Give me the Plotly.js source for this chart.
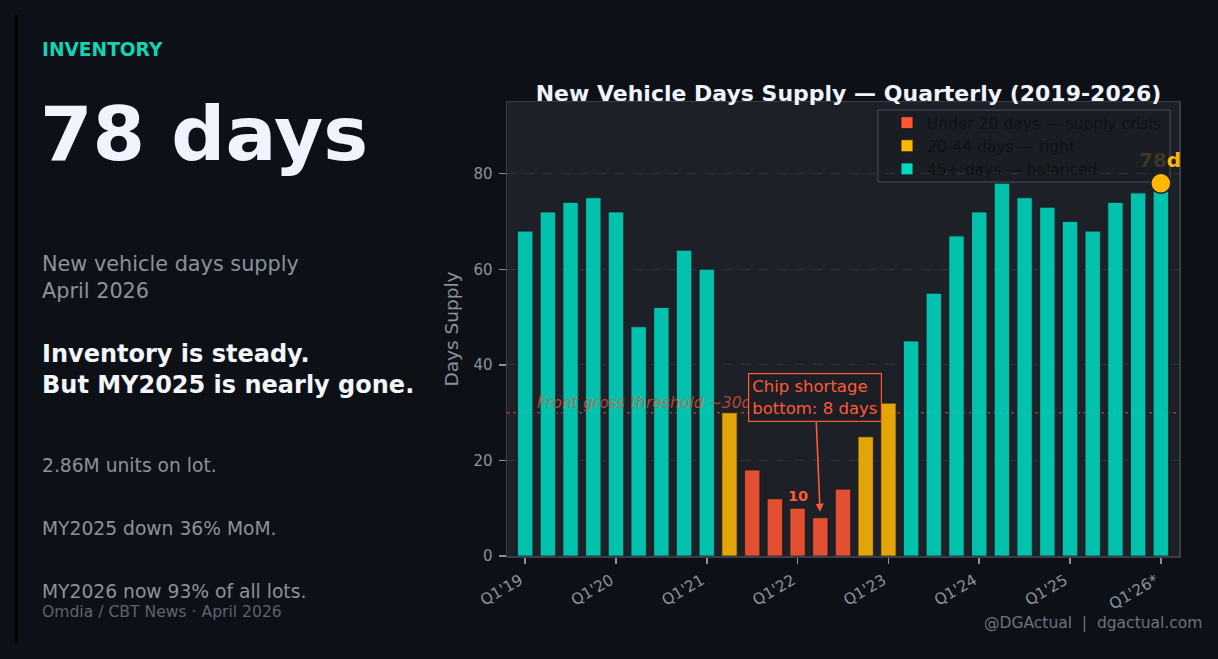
<!DOCTYPE html>
<html>
<head>
<meta charset="utf-8">
<script src="https://cdn.plot.ly/plotly-3.0.1.min.js"></script>
<style>
  html, body { margin: 0; padding: 0; background: #0d1017; }
  #chart { width: 1218px; height: 659px; }
</style>
</head>
<body>
<div id="chart"></div>
<script>
// ---------------- DATA ----------------
const quarters = ["Q1'19","Q2'19","Q3'19","Q4'19","Q1'20","Q2'20","Q3'20","Q4'20",
                  "Q1'21","Q2'21","Q3'21","Q4'21","Q1'22","Q2'22","Q3'22","Q4'22",
                  "Q1'23","Q2'23","Q3'23","Q4'23","Q1'24","Q2'24","Q3'24","Q4'24",
                  "Q1'25","Q2'25","Q3'25","Q4'25","Q1'26*"];
const daysSupply = [68,72,74,75,72,48,52,64,60,30,18,12,10,8,14,25,
                    32,45,55,67,72,78,75,73,70,68,74,76,78];
const tickLabels = ["Q1'19","Q1'20","Q1'21","Q1'22","Q1'23","Q1'24","Q1'25","Q1'26*"];
const bandNames = ["Under 20 days \u2014 supply crisis","20-44 days \u2014 tight","45+ days \u2014 balanced"];
const bandColors = ["#FF5733","#FFB703","#00D9C0"];
const crisisMax = 20, tightMax = 45;
const frontGrossThreshold = 30;
const chipBottomQuarter = "Q2'22", chipBottomValue = 8;
const labelQuarter = "Q1'22", labelValue = 10;

// ---------------- HELPERS ----------------
const W = 1218, H = 659;
const px = x => x / W;
const py = y => 1 - y / H;
// plot-area pixel box
const PL = 507, PR = 1179, PT = 102, PB = 556;
const dx = x => (x - PL) / (PR - PL);
const dy = y => (PB - y) / (PB - PT);

function band(v) { return v < crisisMax ? 0 : (v < tightMax ? 1 : 2); }

const traces = bandNames.map((name, b) => {
  const xs = [], ys = [];
  quarters.forEach((q, i) => { if (band(daysSupply[i]) === b) { xs.push(q); ys.push(daysSupply[i]); } });
  return {
    type: 'bar', name: name, x: xs, y: ys, width: 0.68,
    marker: { color: bandColors[b], opacity: 0.88, line: { color: 'rgba(20,22,28,0.7)', width: 1.2 } },
    hoverinfo: 'skip'
  };
});

const lastQ = quarters[quarters.length - 1];
const lastV = daysSupply[daysSupply.length - 1];
traces.push({
  type: 'scatter', mode: 'markers', x: [lastQ], y: [lastV], showlegend: false, cliponaxis: false,
  marker: { size: 20, color: '#FFB703', line: { color: '#1e2028', width: 1.5 } }, hoverinfo: 'skip'
});

const grey = '#8b929c';
const ann = [];
function txt(text, x, y, size, color, opts) {
  ann.push(Object.assign({ text: text, xref: 'paper', yref: 'paper', x: px(x), y: py(y),
    xanchor: 'left', yanchor: 'middle', showarrow: false, align: 'left',
    font: { size: size, color: color, family: 'DejaVu Sans' } }, opts || {}));
}
// left panel
txt('<b>INVENTORY</b>', 40, 49, 18.6, '#14d2b4');
txt('<b>' + lastV + ' days</b>', 38, 134, 75.5, '#f0f4ff');
txt('New vehicle days supply<br>April 2026', 40, 277, 20.8, grey);
txt('<b>Inventory is steady.<br>But MY2025 is nearly gone.</b>', 40, 369, 24, '#f4f6fb');
txt('2.86M units on lot.', 40, 465, 18.7, grey);
txt('MY2025 down 36% MoM.', 40, 528, 18.7, grey);
txt('MY2026 now 93% of all lots.', 40, 591, 18.7, grey);
txt('Omdia / CBT News \u00b7 April 2026', 40, 612, 15.6, '#5c636e');
txt('@DGActual \u00a0|\u00a0 dgactual.com', 1204, 623, 15.5, '#6b7280', { xanchor: 'right' });

// chart annotations
ann.push({
  text: '<i>Front gross threshold ~' + frontGrossThreshold + 'd</i>', xref: 'x', yref: 'y',
  x: quarters[0], xshift: 10, y: frontGrossThreshold, yshift: -1, xanchor: 'left', yanchor: 'bottom',
  showarrow: false, font: { size: 15.6, color: 'rgba(229,83,58,0.75)' }
});
ann.push({
  text: 'Chip shortage<br>bottom: ' + chipBottomValue + ' days', xref: 'x', yref: 'y',
  x: chipBottomQuarter, y: chipBottomValue, ax: -5, ay: -120, axref: 'pixel', ayref: 'pixel',
  showarrow: true, arrowhead: 2, arrowsize: 1, arrowwidth: 1.6, arrowcolor: '#ff5a36', standoff: 6,
  align: 'left', font: { size: 16.5, color: '#ff5a36' },
  bgcolor: '#1b1e25', bordercolor: '#ff5a36', borderwidth: 1.2, borderpad: 3
});
ann.push({
  text: '<b>' + labelValue + '</b>', xref: 'x', yref: 'y', x: labelQuarter, y: labelValue,
  yanchor: 'bottom', yshift: 2, showarrow: false, font: { size: 14.5, color: '#ff5a36' }
});
ann.push({
  text: '<span style="color:#3c3722">' + String(lastV) + '</span>d', xref: 'x', yref: 'y', x: lastQ, y: lastV,
  yanchor: 'middle', yshift: 23, xshift: -1, showarrow: false,
  font: { size: 20, color: '#FFB703', weight: 'bold' }
});

const layout = {
  width: W, height: H,
  paper_bgcolor: '#0d1017', plot_bgcolor: '#1e2028',
  margin: { l: 0, r: 0, t: 0, b: 0 },
  font: { family: 'DejaVu Sans', color: grey, size: 14.5 },
  barmode: 'overlay',
  showlegend: true,
  title: {
    text: '<b>New Vehicle Days Supply \u2014 Quarterly (2019-2026)</b>',
    x: px(848.5), xanchor: 'center', y: py(93), yanchor: 'middle',
    font: { size: 22, color: '#f0f4ff' }
  },
  xaxis: {
    type: 'category', categoryorder: 'array', categoryarray: quarters,
    range: [-0.8, 28.8], domain: [px(PL), px(PR)],
    tickmode: 'array', tickvals: tickLabels, ticktext: tickLabels, tickangle: -30,
    ticks: 'outside', ticklen: 6, tickwidth: 1.5, tickcolor: grey,
    ticklabelshift: -5, ticklabelstandoff: 2,
    tickfont: { size: 15.5, color: grey, family: 'DejaVu Sans' },
    showgrid: false, zeroline: false, showline: true, mirror: true, linecolor: '#3a3e48', linewidth: 1.5
  },
  yaxis: {
    range: [0, 95], domain: [py(PB), py(PT)],
    tickmode: 'array', tickvals: [0, 20, 40, 60, 80],
    ticks: 'outside', ticklen: 7, tickwidth: 1.5, tickcolor: grey, ticklabelstandoff: 3,
    tickfont: { size: 15, color: grey, family: 'DejaVu Sans' },
    showgrid: true, gridcolor: '#30343d', griddash: 'dash', gridwidth: 1,
    zeroline: false, showline: true, mirror: true, linecolor: '#3a3e48', linewidth: 1.5,
    title: { text: 'Days Supply', font: { size: 18.5, color: grey }, standoff: 10 }
  },
  legend: {
    x: px(887), xanchor: 'left', y: py(106), yanchor: 'top',
    bgcolor: 'rgba(0,0,0,0)', borderwidth: 0,
    font: { size: 15.5, color: '#111111' }, traceorder: 'normal', itemclick: false
  },
  shapes: [
    // legend frame (drawn under the bars and marker, above the grid)
    { type: 'rect', xref: 'x domain', yref: 'y domain', x0: dx(878), x1: dx(1170), y0: dy(182), y1: dy(110),
      fillcolor: '#1a1d24', line: { color: '#3a3e48', width: 1.5 }, layer: 'below' },
    { type: 'line', xref: 'x domain', yref: 'y', x0: 0, x1: 1, y0: frontGrossThreshold, y1: frontGrossThreshold,
      line: { color: 'rgba(229,83,58,0.6)', width: 1.5, dash: 'dot' }, layer: 'below' },
    { type: 'line', xref: 'paper', yref: 'paper', x0: px(16.5), x1: px(16.5), y0: py(15), y1: py(643),
      line: { color: '#000000', width: 3 } }
  ],
  annotations: ann
};

Plotly.newPlot('chart', traces, layout, { displayModeBar: false, staticPlot: true });
</script>
</body>
</html>
